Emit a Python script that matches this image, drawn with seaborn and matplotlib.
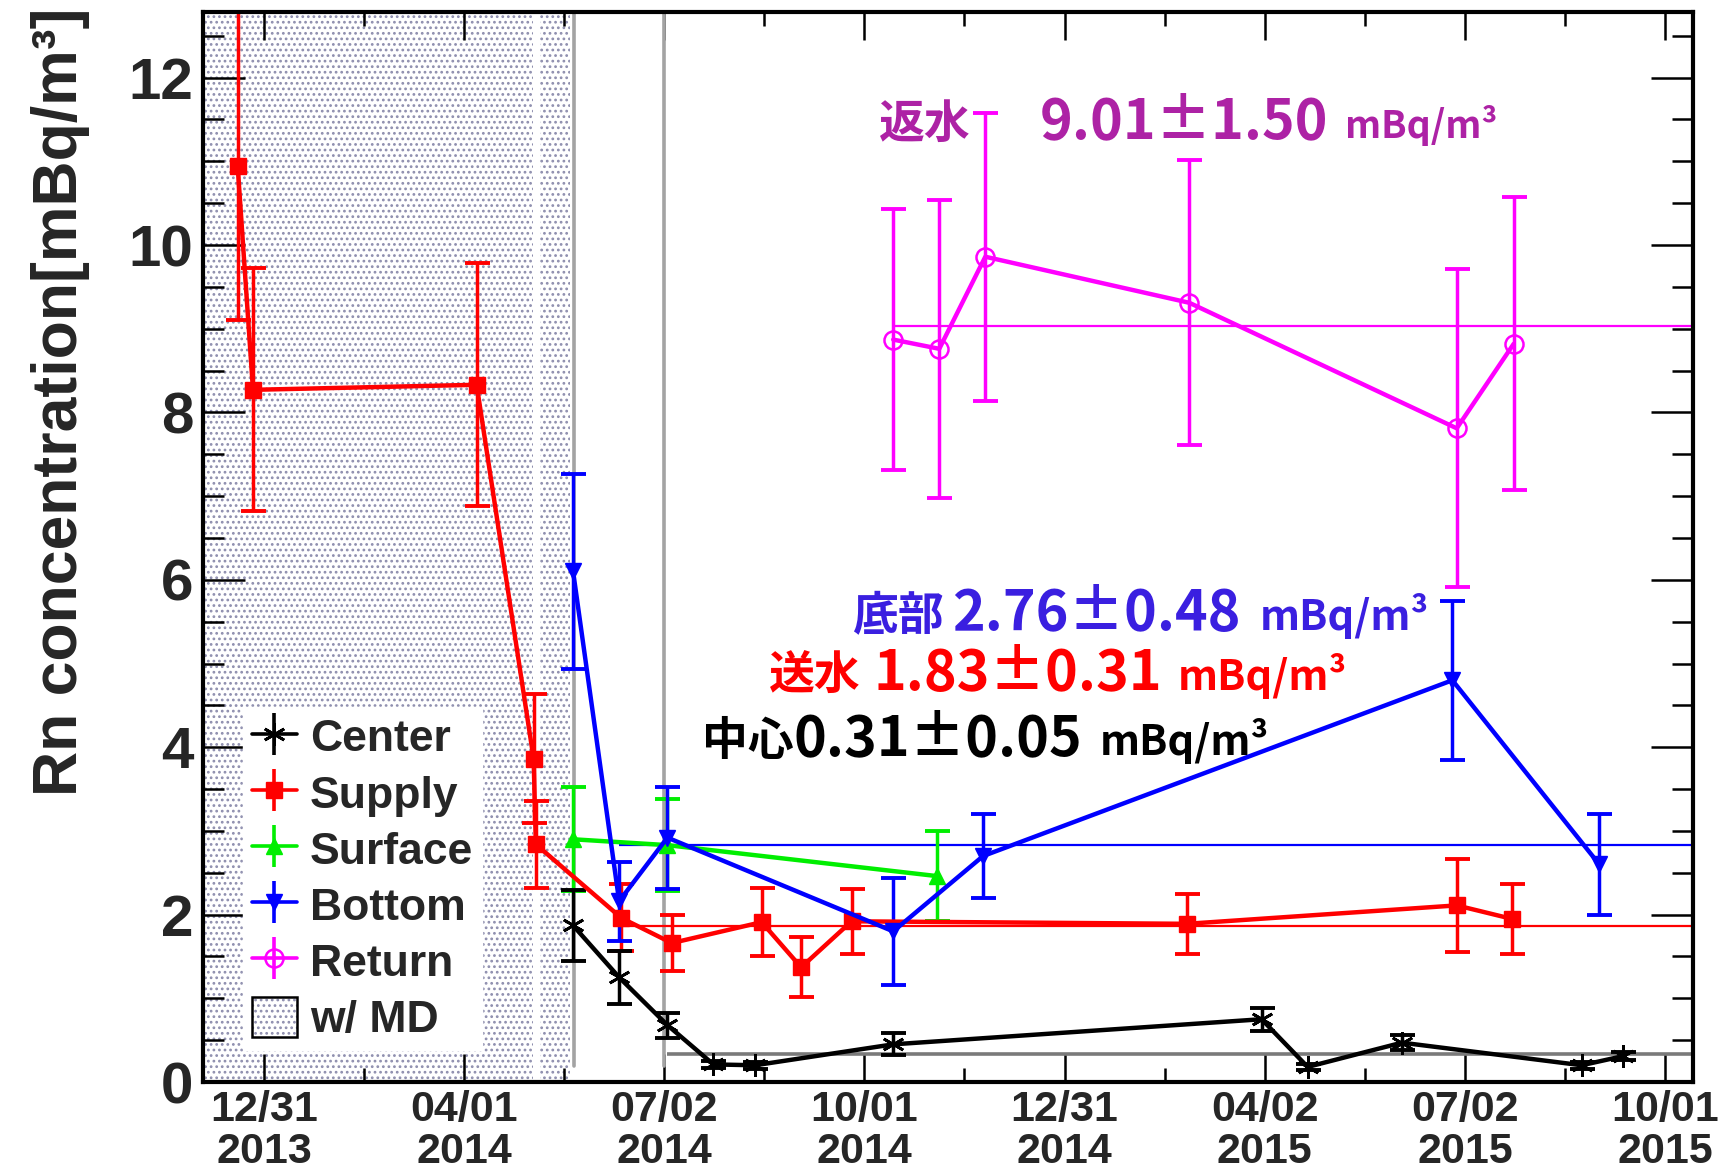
"""Rn concentration history of the tank water, redrawn with seaborn."""
from __future__ import annotations

import matplotlib

matplotlib.use("Agg")
import matplotlib.dates as mdates
import matplotlib.pyplot as plt
import pandas as pd
import seaborn as sns
from matplotlib.legend_handler import HandlerTuple
from matplotlib.lines import Line2D
from matplotlib.patches import Patch
from matplotlib.ticker import FixedLocator, MultipleLocator

W, H, DPI = 1733, 1173, 100

# ---- data ------------------------------------------------------------------
CENTER_DATES = ["2014-05-21", "2014-06-11", "2014-07-03", "2014-07-24", "2014-08-12", "2014-10-14",
                "2015-03-31", "2015-04-21", "2015-06-03", "2015-08-24", "2015-09-12"]
CENTER_VALUES = [1.87, 1.25, 0.68, 0.21, 0.20, 0.45, 0.75, 0.18, 0.47, 0.20, 0.31]
CENTER_ERRORS = [0.42, 0.32, 0.15, 0.04, 0.04, 0.13, 0.14, 0.04, 0.09, 0.04, 0.05]

SUPPLY_DATES = ["2013-12-19", "2013-12-26", "2014-04-07", "2014-05-03", "2014-05-04", "2014-06-12",
                "2014-07-05", "2014-08-15", "2014-09-02", "2014-09-25", "2015-02-25", "2015-06-28",
                "2015-07-23"]
SUPPLY_VALUES = [10.95, 8.27, 8.33, 3.86, 2.84, 1.96, 1.66, 1.91, 1.37, 1.92, 1.89, 2.11, 1.95]
SUPPLY_ERRORS = [1.85, 1.45, 1.45, 0.77, 0.52, 0.40, 0.33, 0.41, 0.36, 0.39, 0.36, 0.56, 0.42]

SURFACE_DATES = ["2014-05-21", "2014-07-03", "2014-11-03"]
SURFACE_VALUES = [2.90, 2.83, 2.46]
SURFACE_ERRORS = [0.62, 0.55, 0.54]

BOTTOM_DATES = ["2014-05-21", "2014-06-11", "2014-07-03", "2014-10-14", "2014-11-24", "2015-06-26",
                "2015-09-01"]
BOTTOM_VALUES = [6.10, 2.16, 2.92, 1.80, 2.70, 4.80, 2.60]
BOTTOM_ERRORS = [1.16, 0.47, 0.61, 0.64, 0.50, 0.95, 0.60]

RETURN_DATES = ["2014-10-14", "2014-11-04", "2014-11-25", "2015-02-26", "2015-06-28", "2015-07-24"]
RETURN_VALUES = [8.87, 8.76, 9.86, 9.31, 7.81, 8.82]
RETURN_ERRORS = [1.56, 1.78, 1.72, 1.70, 1.90, 1.75]

# fitted constant levels (drawn) and the quoted results (text)
MEAN_LEVELS = {"Center": 0.34, "Supply": 1.86, "Bottom": 2.83, "Return": 9.03}
MEAN_STARTS = {"Center": "2014-07-03", "Supply": "2014-06-12", "Bottom": "2014-06-11", "Return": "2014-10-14"}
FIT_NAMES = ["返水", "底部", "送水", "中心"]
FIT_RESULTS = ["9.01±1.50", "2.76±0.48", "1.83±0.31", "0.31±0.05"]
FIT_UNIT = "mBq/m³"

MD_PERIODS = [("2013-11-01", "2014-05-02 16:00"), ("2014-05-05 22:00", "2014-05-19 14:00")]
MARK_LINES = ["2014-05-21 10:00", "2014-07-01 12:00"]

TICK_START = "2013-12-31"
TICK_STEP_DAYS = 639 / 7
TICK_LABELS = ["12/31\n2013", "04/01\n2014", "07/02\n2014", "10/01\n2014",
               "12/31\n2014", "04/02\n2015", "07/02\n2015", "10/01\n2015"]
XLIM = ("2013-12-03 05:00", "2015-10-13 18:00")
YLIM = (0, 12.79)

STYLE = {
    "Supply": dict(color="#ff0000", marker="s", ms=12, mfc="#ff0000", mew=1),
    "Surface": dict(color="#00ee00", marker="^", ms=12, mfc="#00ee00", mew=1),
    "Bottom": dict(color="#0000ff", marker="v", ms=12, mfc="#0000ff", mew=1),
    "Center": dict(color="black", marker=(6, 2, 0), ms=16, mfc="black", mew=2),
    "Return": dict(color="#ff00ff", marker="o", ms=13, mfc="none", mew=1.8),
}
FIT_COLORS = ["#ad22a5", "#3a1fe0", "#ff0000", "black"]
MD_DOT = "#8e8eae"


def px(x: float, y: float) -> tuple[float, float]:
    return x / W, 1 - y / H


def _series() -> dict[str, pd.DataFrame]:
    raw = {
        "Supply": (SUPPLY_DATES, SUPPLY_VALUES, SUPPLY_ERRORS),
        "Surface": (SURFACE_DATES, SURFACE_VALUES, SURFACE_ERRORS),
        "Bottom": (BOTTOM_DATES, BOTTOM_VALUES, BOTTOM_ERRORS),
        "Center": (CENTER_DATES, CENTER_VALUES, CENTER_ERRORS),
        "Return": (RETURN_DATES, RETURN_VALUES, RETURN_ERRORS),
    }
    return {
        name: pd.DataFrame({"date": pd.to_datetime(d), "value": v, "err": e})
        for name, (d, v, e) in raw.items()
    }


def main() -> None:
    sns.set_theme(style="ticks")
    plt.rcParams["font.family"] = ["Liberation Sans", "DejaVu Sans"]
    plt.rcParams["font.weight"] = "bold"
    plt.rcParams["hatch.linewidth"] = 1.2
    plt.rcParams["hatch.color"] = MD_DOT

    fig = plt.figure(figsize=(W / DPI, H / DPI), dpi=DPI)
    ax = fig.add_axes([203 / W, 1 - 1082 / H, 1490 / W, 1070.5 / H])
    xlim = [pd.Timestamp(t) for t in XLIM]

    for start, end in MD_PERIODS:
        ax.axvspan(pd.Timestamp(start), pd.Timestamp(end), facecolor="white", edgecolor=MD_DOT,
                   hatch="...", lw=0, zorder=0)
    for t in MARK_LINES:
        ax.axvline(pd.Timestamp(t), color="#a3a3a3", lw=2.6, ymin=0.015, zorder=1)

    for name, level in MEAN_LEVELS.items():
        color = "#7a7a7a" if name == "Center" else STYLE[name]["color"]
        ax.hlines(level, pd.Timestamp(MEAN_STARTS[name]), xlim[1], color=color,
                  lw=2.6 if name == "Center" else 1.6, zorder=2)

    for name, df in _series().items():
        st = STYLE[name]
        ax.errorbar(df["date"], df["value"], yerr=df["err"], fmt="none", ecolor=st["color"],
                    elinewidth=2.5, capsize=9, capthick=2.8, zorder=3)
        sns.lineplot(data=df, x="date", y="value", ax=ax, sort=False, estimator=None,
                     color=st["color"], lw=3.2, marker=st["marker"], markersize=st["ms"],
                     markerfacecolor=st["mfc"], markeredgecolor=st["color"],
                     markeredgewidth=st["mew"], zorder=4)

    ax.set_xlim(xlim)
    base = mdates.date2num(pd.Timestamp(TICK_START))
    ticks = [base + k * TICK_STEP_DAYS for k in range(len(TICK_LABELS))]
    ax.xaxis.set_major_locator(FixedLocator(ticks))
    ax.xaxis.set_minor_locator(FixedLocator([t + TICK_STEP_DAYS / 2 for t in ticks]))
    ax.set_xticklabels(TICK_LABELS, fontsize=31, fontweight="bold", linespacing=1.05)
    yticks = list(range(0, 13, 2))
    ax.set_yticks(yticks)
    ax.set_yticklabels([str(v) for v in yticks], fontsize=42, fontweight="bold")
    ax.yaxis.set_minor_locator(MultipleLocator(0.5))
    ax.set_ylim(*YLIM)
    ax.tick_params(which="both", direction="in", top=True, right=True, color="black", width=1.8)
    ax.tick_params(axis="x", which="major", length=20, pad=6)
    ax.tick_params(axis="x", which="minor", length=10)
    ax.tick_params(axis="y", which="major", length=30, pad=7)
    ax.tick_params(axis="y", which="minor", length=15)
    ax.set_xlabel("")
    ax.set_ylabel("")
    for spine in ax.spines.values():
        spine.set_linewidth(3)
        spine.set_color("black")
        spine.set_zorder(6)

    fig.text(*px(61, 8), "Rn concentration[mBq/m³]", rotation=90, ha="center", va="top",
             fontsize=45, fontweight="bold")

    # quoted fit results: name, value, unit placed as separate pieces
    cjk = ["Noto Sans CJK JP", "DejaVu Sans"]
    layout = [(879, 1040, 1345, 138, 27), (852, 952, 1260, 630, 30),
              (769, 874, 1178, 690, 30), (702, 794, 1100, 755, 30)]
    for name, result, color, (x0, x1, x2, y, unit_size) in zip(FIT_NAMES, FIT_RESULTS, FIT_COLORS, layout):
        fig.text(*px(x0, y), name, color=color, fontsize=33, family=cjk, fontweight="bold", va="baseline")
        fig.text(*px(x1, y), result, color=color, fontsize=40, family=cjk, fontweight="bold", va="baseline")
        fig.text(*px(x2, y), FIT_UNIT, color=color, fontsize=unit_size, family=cjk,
                 fontweight="bold", va="baseline")

    handles, labels = [], []
    for name in ["Center", "Supply", "Surface", "Bottom", "Return"]:
        st = STYLE[name]
        line = Line2D([], [], color=st["color"], lw=2.6, marker=st["marker"], ms=st["ms"],
                      mfc=st["mfc"], mec=st["color"], mew=st["mew"])
        bar = Line2D([], [], color=st["color"], marker="|", ms=30, mew=2.6, ls="none")
        handles.append((line, bar))
        labels.append(name)
    handles.append((Patch(facecolor="white", edgecolor=MD_DOT, hatch="...", lw=0),
                    Patch(fill=False, edgecolor="black", lw=1.8)))
    labels.append("w/ MD")
    leg = ax.legend(handles, labels, loc="lower left", bbox_to_anchor=(0.027, 0.03),
                    borderaxespad=0, frameon=True, fancybox=False, facecolor="white",
                    edgecolor="white", framealpha=1, fontsize=32, handlelength=1.0,
                    handleheight=1.0, handletextpad=0.3, labelspacing=0.27, borderpad=0.2,
                    handler_map={tuple: HandlerTuple(ndivide=1)})
    for text in leg.get_texts():
        text.set_fontweight("bold")
    leg.set_zorder(5)

    fig.savefig("out.png", dpi=DPI)
    plt.close(fig)


if __name__ == "__main__":
    main()
